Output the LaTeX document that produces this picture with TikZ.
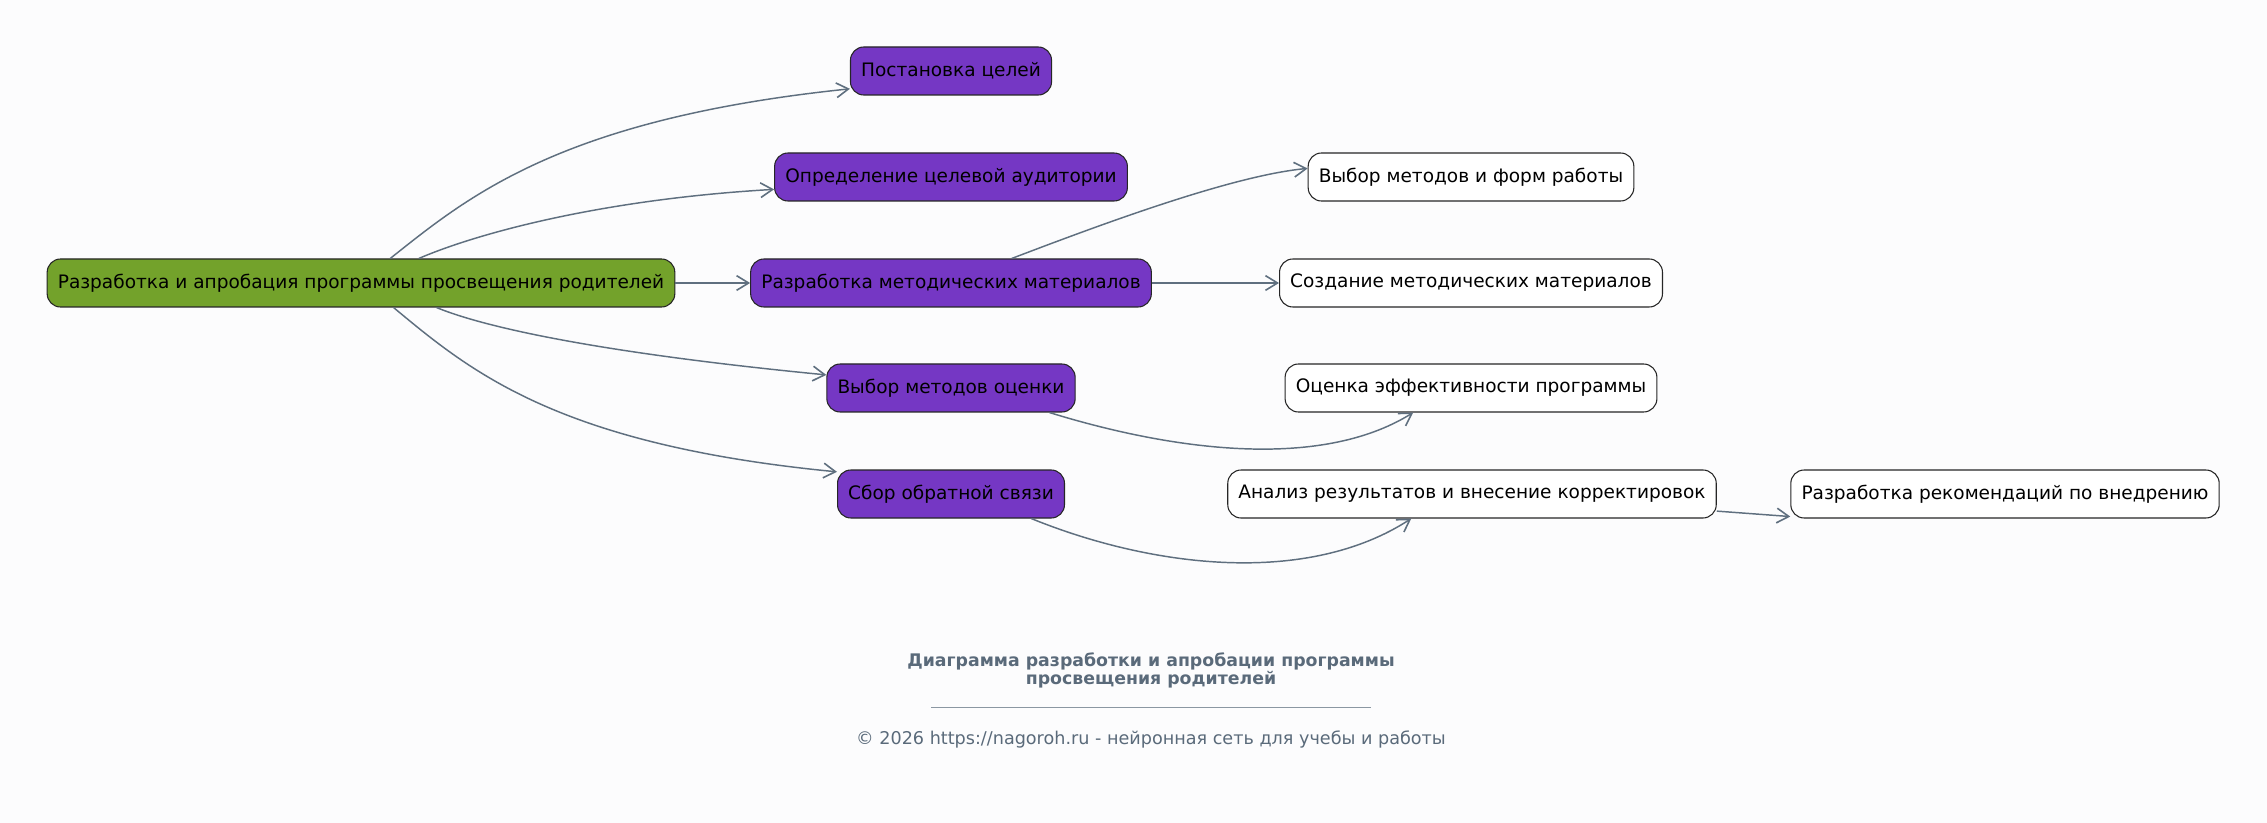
\documentclass[tikz,border=0pt]{standalone}
\usepackage{fontspec}
\setmainfont{DejaVu Sans}
\usetikzlibrary{arrows.meta}

\definecolor{bgcol}{HTML}{FCFCFD}
\definecolor{rootgreen}{HTML}{73A22B}
\definecolor{stagepurple}{HTML}{7537C4}
\definecolor{linkgray}{HTML}{5F6F7F}
\definecolor{titlegray}{HTML}{5A6A7A}

\tikzset{
  box/.style={draw=black!85, rounded corners=10pt, minimum height=36pt,
    inner xsep=8pt, line width=0.8pt, font=\fontsize{13.9}{16}\selectfont},
  rootbox/.style={box, fill=rootgreen},
  stagebox/.style={box, fill=stagepurple},
  taskbox/.style={box, fill=white},
  link/.style={draw=linkgray, line width=1.1pt,
    -{Straight Barb[length=9pt,width=11pt,line width=1.2pt]}}
}

\begin{document}
\begin{tikzpicture}[x=0.75pt,y=-0.75pt]
\fill[bgcol] (0,0) rectangle (2267,823);%fond
\useasboundingbox (0,0) rectangle (2267,823);

% noeuds
\node[rootbox] (root) at (361,283) {Разработка и апробация программы просвещения родителей};

\node[stagebox] (goals) at (951,71) {Постановка целей};
\node[stagebox] (audience) at (951,177) {Определение целевой аудитории};
\node[stagebox] (materials) at (951,283) {Разработка методических материалов};
\node[stagebox] (evalmeth) at (951,388) {Выбор методов оценки};
\node[stagebox] (feedback) at (951,494) {Сбор обратной связи};

\node[taskbox] (forms) at (1471,177) {Выбор методов и форм работы};
\node[taskbox] (create) at (1471,283) {Создание методических материалов};
\node[taskbox] (efficiency) at (1471,388) {Оценка эффективности программы};
\node[taskbox] (analysis) at (1472,494) {Анализ результатов и внесение корректировок};
\node[taskbox] (advice) at (2005,494) {Разработка рекомендаций по внедрению};

% liens
\draw[link] (root.40) .. controls +(78,-62) and +(-289,30) .. (goals.190);
\draw[link] (root.23) .. controls +(58,-25) and +(-173,10) .. (audience.184);
\draw[link] (root) -- (materials);
\draw[link] (root.-18) .. controls +(56,23) and +(-206,-20) .. (evalmeth.174);
\draw[link] (root.-37) .. controls +(77,64) and +(-279,-27) .. (feedback.169);

\draw[link] (materials.22) .. controls +(84,-32) and +(-76,7) .. (forms.177);
\draw[link] (materials) -- (create);
\draw[link] (evalmeth.-14) .. controls +(123,38) and +(-93,58) .. (efficiency.-157);
\draw[link] (feedback.-17) .. controls +(123,50) and +(-103,67) .. (analysis.-158);
\draw[link] (analysis.-4) -- (advice.-174);

% titre
\node[titlegray, align=center, font=\fontsize{13}{13.5}\selectfont\bfseries] (title) at (1151,670)
  {Диаграмма разработки и апробации программы\\просвещения родителей};
\coordinate (ruleL) at (931,707);
\coordinate (ruleR) at (1371,707);
\draw[titlegray!70, line width=0.6pt] (ruleL) -- (ruleR);
\node[titlegray, font=\fontsize{13.2}{14}\selectfont] (credit) at (1151,739)
  {© 2026 https://nagoroh.ru - нейронная сеть для учебы и работы};
\end{tikzpicture}
\end{document}
